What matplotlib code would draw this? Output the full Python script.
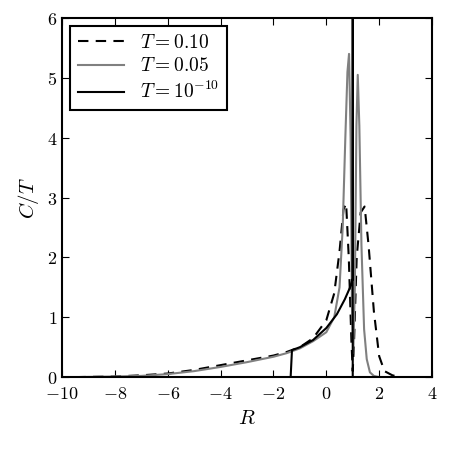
import matplotlib
matplotlib.use("Agg")
import matplotlib.pyplot as plt

plt.rcParams['mathtext.fontset'] = 'cm'
plt.rcParams['font.family'] = 'DejaVu Serif'

R_dash = [-9.5, -8, -7, -6, -5, -4, -3, -2, -1.5, -1, -0.5, 0, 0.3, 0.5, 0.65, 0.75, 0.85, 0.95, 1.0, 1.05, 1.15, 1.3, 1.45, 1.6, 1.8, 2.0, 2.2, 2.5, 2.8]
C_dash = [0.0, 0.01, 0.03, 0.06, 0.12, 0.2, 0.28, 0.36, 0.42, 0.5, 0.65, 0.95, 1.4, 2.1, 2.8, 2.9, 2.0, 0.6, 0.1, 0.6, 2.0, 2.75, 2.85, 2.2, 1.1, 0.35, 0.1, 0.03, 0.0]

R_gray = [-9.5, -8, -7, -6, -5, -4, -3, -2, -1.5, -1, -0.5, 0, 0.3, 0.5, 0.62, 0.72, 0.8, 0.86, 0.92, 0.97, 1.02, 1.08, 1.14, 1.19, 1.25, 1.33, 1.43, 1.53, 1.65, 1.8, 2.0]
C_gray = [0.0, 0.01, 0.02, 0.05, 0.1, 0.17, 0.25, 0.34, 0.4, 0.48, 0.6, 0.75, 1.0, 1.5, 2.5, 4.0, 5.1, 5.4, 4.0, 1.2, 0.4, 1.5, 4.2, 5.05, 4.2, 2.2, 0.8, 0.3, 0.08, 0.02, 0.0]

R_black = [-9.5, -2, -1.35, -1.3, -1.0, -0.5, 0.0, 0.4, 0.7, 0.9, 1.0, 1.0, 1.0, 4.0]
C_black = [0.0, 0.0, 0.0, 0.45, 0.5, 0.62, 0.82, 1.05, 1.3, 1.5, 1.65, 7.0, 0.0, 0.0]

fig = plt.figure(figsize=(4.5, 4.5), dpi=100)
ax = fig.add_axes([0.138, 0.162, 0.822, 0.798])
ax.plot(R_dash, C_dash, 'k--', lw=1.5, dashes=(5, 3.5), label=r'$T=0.10$')
ax.plot(R_gray, C_gray, color='0.5', lw=1.5, label=r'$T=0.05$')
ax.plot(R_black, C_black, 'k-', lw=1.5, label=r'$T=10^{-10}$')
ax.set_xlim(-10, 4)
ax.set_ylim(0, 6)
ax.set_xticks(range(-10, 5, 2))
ax.set_xticklabels([r'$-10$', r'$-8$', r'$-6$', r'$-4$', r'$-2$', r'$0$', r'$2$', r'$4$'])
ax.set_yticks(range(0, 7))
ax.set_yticklabels([f'${i}$' for i in range(7)])
ax.tick_params(direction='in', top=True, right=True, labelsize=13, length=5)
ax.tick_params(axis='x', pad=6)
for s in ax.spines.values():
    s.set_linewidth(1.5)
ax.set_xlabel(r'$R$', fontsize=15)
ax.set_ylabel(r'$C/T$', fontsize=15)
leg = ax.legend(loc='upper left', fontsize=14, fancybox=False, framealpha=1,
                edgecolor='k', handlelength=2.4, borderaxespad=0.4, labelspacing=0.3)
leg.get_frame().set_linewidth(1.5)
fig.savefig('out.png', dpi=100)
